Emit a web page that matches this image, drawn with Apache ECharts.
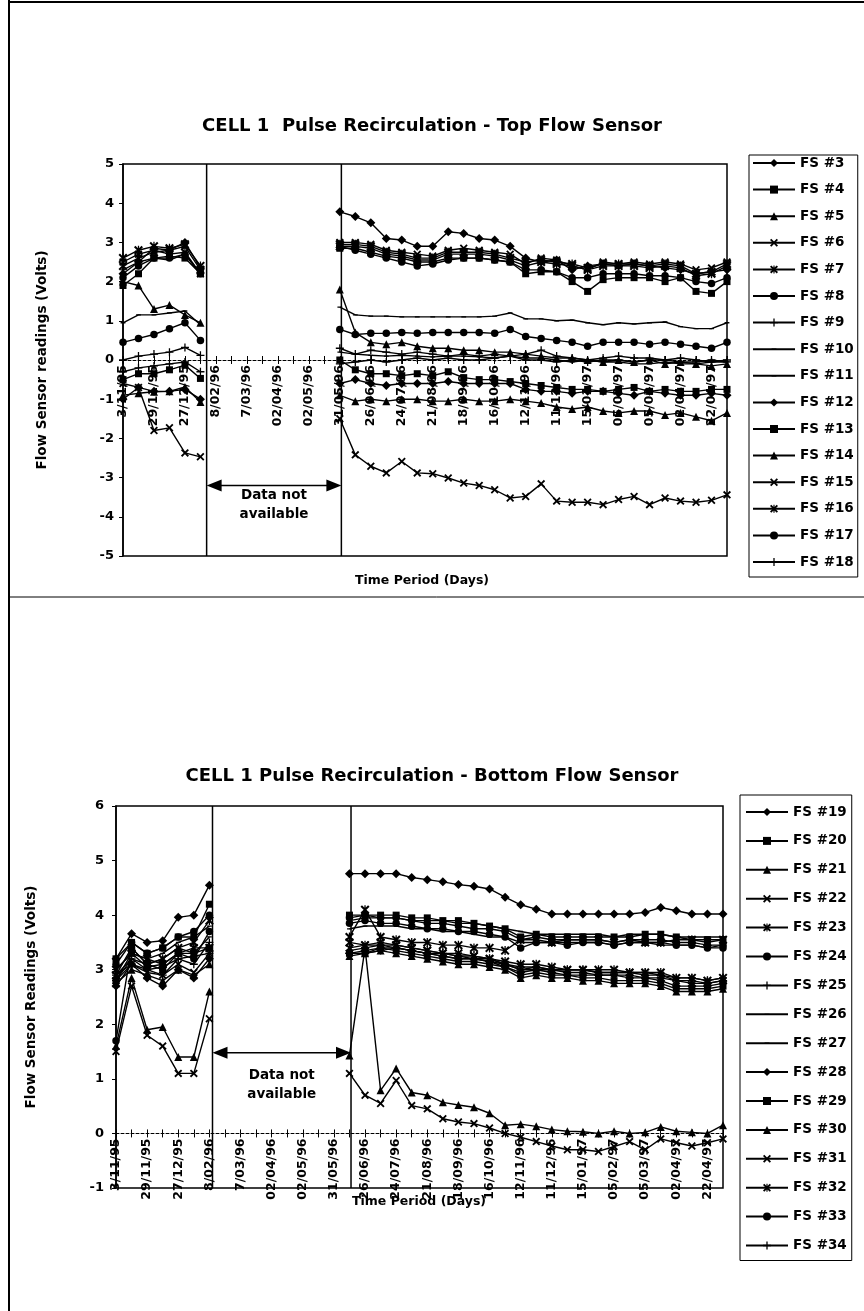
<!DOCTYPE html>
<html lang="en">
<head>
<meta charset="UTF-8">
<title>CELL 1 Pulse Recirculation</title>
<script src="https://cdn.jsdelivr.net/npm/echarts@6/dist/echarts.min.js"></script>
<style>
  html, body { margin: 0; padding: 0; background: #fff; }
  #main { width: 864px; height: 1311px; }
</style>
</head>
<body>
<div id="main"></div>
<script>
var _ = null;

// sampling dates (every other one is labelled on the axis)
var dates = ['3/11/95', '16/11/95', '29/11/95', '13/12/95', '27/12/95', '18/01/96', '8/02/96', '22/02/96',
    '7/03/96', '20/03/96', '02/04/96', '17/04/96', '02/05/96', '16/05/96', '31/05/96', '12/06/96',
    '26/06/96', '10/07/96', '24/07/96', '07/08/96', '21/08/96', '04/09/96', '18/09/96', '02/10/96',
    '16/10/96', '29/10/96', '12/11/96', '26/11/96', '11/12/96', '30/12/96', '15/01/97', '24/01/97',
    '05/02/97', '19/02/97', '05/03/97', '19/03/97', '02/04/97', '12/04/97', '22/04/97', '30/04/97'];

var topNames = ['FS #3', 'FS #4', 'FS #5', 'FS #6', 'FS #7', 'FS #8', 'FS #9', 'FS #10',
    'FS #11', 'FS #12', 'FS #13', 'FS #14', 'FS #15', 'FS #16', 'FS #17', 'FS #18'];
var bottomNames = ['FS #19', 'FS #20', 'FS #21', 'FS #22', 'FS #23', 'FS #24', 'FS #25', 'FS #26',
    'FS #27', 'FS #28', 'FS #29', 'FS #30', 'FS #31', 'FS #32', 'FS #33', 'FS #34'];
var markers = ['diamond', 'square', 'triangle', 'cross', 'star', 'circle', 'plus', 'dash',
    'dash', 'diamond', 'square', 'triangle', 'cross', 'star', 'circle', 'plus'];

// top flow sensors (Volts)
var fs3 = [2.2, 2.5, 2.85, 2.8, 3.0, 2.35, _, _, _, _, _, _, _, _, 3.78, 3.66, 3.5, 3.1, 3.06, 2.9, 2.9, 3.27, 3.23, 3.1, 3.06, 2.9, 2.6, 2.5, 2.55, 2.3, 2.4, 2.45, 2.4, 2.45, 2.4, 2.35, 2.3, 2.2, 2.25, 2.3];
var fs4 = [1.9, 2.2, 2.6, 2.65, 2.6, 2.2, _, _, _, _, _, _, _, _, 2.85, 2.85, 2.75, 2.65, 2.6, 2.5, 2.5, 2.6, 2.6, 2.6, 2.55, 2.5, 2.2, 2.25, 2.25, 2.0, 1.75, 2.05, 2.1, 2.1, 2.1, 2.0, 2.1, 1.75, 1.7, 2.0];
var fs5 = [2.0, 1.9, 1.3, 1.4, 1.15, 0.95, _, _, _, _, _, _, _, _, 1.8, 0.7, 0.45, 0.4, 0.45, 0.35, 0.3, 0.3, 0.25, 0.25, 0.2, 0.2, 0.15, 0.1, 0.05, 0.05, 0.0, -0.05, 0.0, -0.05, 0.0, -0.1, -0.05, -0.1, -0.15, -0.1];
var fs6 = [2.5, 2.7, 2.8, 2.7, 2.75, 2.2, _, _, _, _, _, _, _, _, 3.0, 3.0, 2.95, 2.8, 2.75, 2.7, 2.65, 2.8, 2.85, 2.8, 2.75, 2.7, 2.45, 2.6, 2.55, 2.4, 2.3, 2.5, 2.45, 2.5, 2.45, 2.5, 2.45, 2.3, 2.35, 2.5];
var fs7 = [2.4, 2.6, 2.75, 2.8, 2.9, 2.3, _, _, _, _, _, _, _, _, 2.95, 2.95, 2.9, 2.75, 2.7, 2.6, 2.6, 2.75, 2.75, 2.75, 2.7, 2.6, 2.5, 2.55, 2.5, 2.45, 2.35, 2.45, 2.45, 2.45, 2.4, 2.45, 2.4, 2.2, 2.25, 2.45];
var fs8 = [0.45, 0.55, 0.65, 0.8, 0.95, 0.5, _, _, _, _, _, _, _, _, 0.78, 0.65, 0.68, 0.68, 0.7, 0.68, 0.7, 0.7, 0.7, 0.7, 0.68, 0.78, 0.6, 0.55, 0.5, 0.45, 0.35, 0.45, 0.45, 0.45, 0.4, 0.45, 0.4, 0.35, 0.3, 0.45];
var fs9 = [0.0, 0.1, 0.15, 0.2, 0.32, 0.12, _, _, _, _, _, _, _, _, 0.3, 0.15, 0.25, 0.2, 0.15, 0.2, 0.15, 0.1, 0.15, 0.1, 0.15, 0.1, 0.15, 0.25, 0.1, 0.05, 0.0, 0.05, 0.1, 0.05, 0.05, 0.0, 0.05, 0.0, -0.05, 0.0];
var fs10 = [0.95, 1.15, 1.15, 1.2, 1.25, 0.9, _, _, _, _, _, _, _, _, 1.35, 1.15, 1.12, 1.12, 1.1, 1.1, 1.1, 1.1, 1.1, 1.1, 1.12, 1.2, 1.05, 1.05, 1.0, 1.02, 0.95, 0.9, 0.95, 0.92, 0.95, 0.97, 0.85, 0.8, 0.8, 0.95];
var fs11 = [2.3, 2.5, 2.6, 2.55, 2.7, 2.2, _, _, _, _, _, _, _, _, 0.2, 0.15, 0.12, 0.1, 0.12, 0.1, 0.08, 0.1, 0.1, 0.08, 0.05, 0.1, 0.05, 0.05, 0.0, -0.05, 0.0, -0.05, -0.05, -0.1, -0.1, -0.05, -0.1, -0.1, -0.05, -0.05];
var fs12 = [-1.0, -0.7, -0.8, -0.8, -0.75, -1.0, _, _, _, _, _, _, _, _, -0.6, -0.5, -0.6, -0.65, -0.6, -0.6, -0.6, -0.55, -0.6, -0.6, -0.6, -0.6, -0.75, -0.8, -0.8, -0.85, -0.8, -0.8, -0.85, -0.9, -0.8, -0.85, -0.9, -0.9, -0.85, -0.9];
var fs13 = [-0.5, -0.35, -0.35, -0.25, -0.13, -0.47, _, _, _, _, _, _, _, _, 0.0, -0.25, -0.35, -0.35, -0.4, -0.35, -0.4, -0.3, -0.45, -0.5, -0.5, -0.55, -0.6, -0.65, -0.7, -0.75, -0.75, -0.8, -0.75, -0.7, -0.8, -0.75, -0.8, -0.8, -0.75, -0.75];
var fs14 = [-0.9, -0.85, -0.81, -0.8, -0.69, -1.07, _, _, _, _, _, _, _, _, -0.9, -1.05, -1.0, -1.05, -1.0, -1.0, -1.05, -1.05, -1.0, -1.05, -1.05, -1.0, -1.05, -1.1, -1.2, -1.25, -1.2, -1.3, -1.35, -1.3, -1.3, -1.4, -1.35, -1.45, -1.55, -1.35];
var fs15 = [-0.6, -0.7, -1.8, -1.73, -2.37, -2.47, _, _, _, _, _, _, _, _, -1.5, -2.42, -2.71, -2.88, -2.59, -2.88, -2.9, -3.01, -3.14, -3.2, -3.31, -3.52, -3.48, -3.16, -3.6, -3.63, -3.63, -3.69, -3.56, -3.48, -3.69, -3.52, -3.6, -3.63, -3.58, -3.44];
var fs16 = [2.6, 2.8, 2.9, 2.85, 2.95, 2.4, _, _, _, _, _, _, _, _, 2.9, 2.9, 2.85, 2.7, 2.65, 2.55, 2.55, 2.7, 2.7, 2.7, 2.65, 2.55, 2.4, 2.5, 2.45, 2.4, 2.3, 2.4, 2.4, 2.4, 2.35, 2.4, 2.35, 2.15, 2.2, 2.4];
var fs17 = [2.1, 2.4, 2.6, 2.6, 2.7, 2.2, _, _, _, _, _, _, _, _, 2.9, 2.8, 2.7, 2.6, 2.5, 2.4, 2.45, 2.55, 2.6, 2.6, 2.55, 2.5, 2.3, 2.3, 2.25, 2.1, 2.1, 2.2, 2.2, 2.2, 2.15, 2.15, 2.1, 2.0, 1.95, 2.1];
var fs18 = [-0.3, -0.2, -0.15, -0.1, -0.05, -0.3, _, _, _, _, _, _, _, _, -0.1, -0.05, 0.0, -0.05, 0.0, 0.05, 0.0, 0.05, 0.0, 0.0, 0.05, 0.1, 0.0, 0.0, -0.05, 0.0, -0.05, 0.0, 0.0, -0.05, 0.0, 0.0, -0.05, -0.05, 0.0, -0.05];

// bottom flow sensors (Volts)
var fs19 = [3.2, 3.66, 3.5, 3.53, 3.96, 4.0, 4.55, _, _, _, _, _, _, _, _, 4.76, 4.76, 4.76, 4.76, 4.69, 4.65, 4.61, 4.56, 4.53, 4.48, 4.33, 4.19, 4.11, 4.02, 4.02, 4.02, 4.02, 4.02, 4.02, 4.05, 4.14, 4.08, 4.02, 4.02, 4.02];
var fs20 = [3.2, 3.5, 3.3, 3.4, 3.6, 3.6, 4.2, _, _, _, _, _, _, _, _, 4.0, 4.0, 4.0, 4.0, 3.95, 3.95, 3.9, 3.9, 3.85, 3.8, 3.75, 3.6, 3.65, 3.6, 3.6, 3.6, 3.6, 3.6, 3.6, 3.65, 3.65, 3.6, 3.55, 3.55, 3.55];
var fs21 = [1.6, 2.85, 1.9, 1.95, 1.4, 1.4, 2.6, _, _, _, _, _, _, _, _, 1.43, 3.4, 0.79, 1.19, 0.75, 0.7, 0.57, 0.52, 0.48, 0.37, 0.15, 0.17, 0.13, 0.07, 0.04, 0.03, 0.0, 0.04, 0.0, 0.02, 0.12, 0.04, 0.02, 0.0, 0.15];
var fs22 = [1.5, 2.7, 1.8, 1.6, 1.1, 1.1, 2.1, _, _, _, _, _, _, _, _, 1.1, 0.7, 0.55, 0.97, 0.51, 0.45, 0.27, 0.21, 0.18, 0.1, 0.0, -0.07, -0.15, -0.23, -0.3, -0.3, -0.33, -0.24, -0.15, -0.3, -0.1, -0.17, -0.23, -0.17, -0.1];
var fs23 = [2.9, 3.4, 3.1, 3.2, 3.4, 3.5, 3.9, _, _, _, _, _, _, _, _, 3.5, 3.45, 3.5, 3.45, 3.4, 3.35, 3.3, 3.3, 3.25, 3.2, 3.15, 3.1, 3.1, 3.05, 3.0, 3.0, 3.0, 3.0, 2.95, 2.95, 2.95, 2.85, 2.85, 2.8, 2.85];
var fs24 = [1.7, 3.4, 3.1, 3.0, 3.3, 3.2, 3.7, _, _, _, _, _, _, _, _, 3.85, 3.9, 3.85, 3.85, 3.8, 3.75, 3.75, 3.7, 3.7, 3.65, 3.6, 3.4, 3.5, 3.5, 3.45, 3.5, 3.5, 3.45, 3.5, 3.5, 3.5, 3.45, 3.45, 3.4, 3.4];
var fs25 = [2.8, 3.2, 3.0, 2.9, 3.2, 3.1, 3.5, _, _, _, _, _, _, _, _, 3.3, 3.3, 3.35, 3.4, 3.35, 3.3, 3.25, 3.2, 3.2, 3.15, 3.1, 3.0, 3.0, 3.0, 2.95, 2.95, 2.9, 2.9, 2.9, 2.85, 2.85, 2.8, 2.75, 2.75, 2.8];
var fs26 = [3.0, 3.3, 3.2, 3.3, 3.5, 3.6, 3.8, _, _, _, _, _, _, _, _, 3.9, 3.95, 3.95, 3.95, 3.9, 3.9, 3.9, 3.85, 3.85, 3.8, 3.75, 3.7, 3.65, 3.65, 3.65, 3.65, 3.65, 3.6, 3.65, 3.65, 3.65, 3.6, 3.6, 3.6, 3.6];
var fs27 = [2.9, 3.2, 3.1, 3.2, 3.4, 3.3, 3.6, _, _, _, _, _, _, _, _, 3.75, 3.8, 3.8, 3.8, 3.75, 3.75, 3.7, 3.7, 3.65, 3.6, 3.6, 3.5, 3.5, 3.5, 3.5, 3.5, 3.5, 3.45, 3.5, 3.5, 3.45, 3.45, 3.45, 3.4, 3.45];
var fs28 = [2.7, 3.1, 2.85, 2.7, 3.0, 2.85, 3.2, _, _, _, _, _, _, _, _, 3.3, 3.35, 3.4, 3.4, 3.35, 3.3, 3.25, 3.2, 3.2, 3.15, 3.05, 2.95, 3.0, 2.95, 2.9, 2.9, 2.9, 2.9, 2.85, 2.85, 2.8, 2.7, 2.7, 2.7, 2.75];
var fs29 = [2.8, 3.3, 3.05, 3.1, 3.3, 3.3, 3.4, _, _, _, _, _, _, _, _, 3.3, 3.3, 3.4, 3.35, 3.3, 3.25, 3.2, 3.15, 3.15, 3.1, 3.05, 2.9, 2.95, 2.9, 2.9, 2.85, 2.85, 2.8, 2.8, 2.8, 2.75, 2.65, 2.65, 2.65, 2.7];
var fs30 = [2.75, 3.0, 2.9, 2.8, 3.0, 2.9, 3.1, _, _, _, _, _, _, _, _, 3.25, 3.3, 3.35, 3.3, 3.25, 3.2, 3.15, 3.1, 3.1, 3.05, 3.0, 2.85, 2.9, 2.85, 2.85, 2.8, 2.8, 2.75, 2.75, 2.75, 2.7, 2.6, 2.6, 2.6, 2.65];
var fs31 = [2.8, 3.1, 2.95, 2.9, 3.1, 2.95, 3.3, _, _, _, _, _, _, _, _, 3.4, 3.45, 3.45, 3.45, 3.4, 3.35, 3.3, 3.25, 3.25, 3.2, 3.1, 3.05, 3.05, 3.0, 3.0, 3.0, 2.95, 2.95, 2.95, 2.9, 2.9, 2.8, 2.8, 2.75, 2.8];
var fs32 = [3.0, 3.3, 3.2, 3.1, 3.3, 3.4, 3.4, _, _, _, _, _, _, _, _, 3.6, 4.1, 3.6, 3.55, 3.5, 3.5, 3.45, 3.45, 3.4, 3.4, 3.35, 3.55, 3.55, 3.5, 3.55, 3.55, 3.55, 3.5, 3.55, 3.5, 3.5, 3.55, 3.55, 3.5, 3.55];
var fs33 = [3.1, 3.5, 3.3, 3.4, 3.6, 3.7, 4.0, _, _, _, _, _, _, _, _, 3.95, 4.0, 3.95, 3.95, 3.9, 3.85, 3.85, 3.8, 3.75, 3.75, 3.7, 3.55, 3.6, 3.55, 3.55, 3.55, 3.55, 3.5, 3.55, 3.55, 3.55, 3.5, 3.5, 3.45, 3.45];
var fs34 = [2.9, 3.1, 3.0, 3.05, 3.2, 3.25, 3.3, _, _, _, _, _, _, _, _, 3.35, 3.4, 3.45, 3.4, 3.35, 3.3, 3.3, 3.25, 3.2, 3.2, 3.1, 3.0, 3.05, 3.0, 3.0, 3.0, 2.95, 2.95, 2.95, 2.95, 2.9, 2.85, 2.85, 2.8, 2.85];

var topData = [fs3, fs4, fs5, fs6, fs7, fs8, fs9, fs10, fs11, fs12, fs13, fs14, fs15, fs16, fs17, fs18];
var bottomData = [fs19, fs20, fs21, fs22, fs23, fs24, fs25, fs26, fs27, fs28, fs29, fs30, fs31, fs32, fs33, fs34];

// where the "Data not available" gap starts/ends (category positions)
var topGap = [5.4, 14.1];
var bottomGap = [6.2, 15.1];

var FONT = 'DejaVu Sans';
var XMARK = 'M0,1.6 L1.6,0 L5,3.4 L8.4,0 L10,1.6 L6.6,5 L10,8.4 L8.4,10 L5,6.6 L1.6,10 L0,8.4 L3.4,5 Z';
var SYMBOLS = {
    diamond: ['diamond', 9],
    square: ['rect', 7],
    triangle: ['triangle', 8],
    cross: ['path://' + XMARK, 8],
    star: ['path://' + XMARK + ' M4.3,0 H5.7 V10 H4.3 Z', 9],
    circle: ['circle', 7.5],
    plus: ['path://M4.2,0 H5.8 V4.2 H10 V5.8 H5.8 V10 H4.2 V5.8 H0 V4.2 H4.2 Z', 8],
    dash: ['path://M0,0 Z M10,10 Z M2,4.2 H8 V5.8 H2 Z', 8]
};

// plot boxes
var topGrid = { left: 123, top: 164, width: 604, height: 392 };
var bottomGrid = { left: 116, top: 806, width: 607, height: 382 };

function buildSeries(names, data, axisIndex) {
    return names.map(function (name, i) {
        var m = SYMBOLS[markers[i]];
        return {
            name: name,
            type: 'line',
            xAxisIndex: axisIndex,
            yAxisIndex: axisIndex,
            data: data[i],
            symbol: m[0],
            symbolSize: m[1],
            showSymbol: true,
            lineStyle: { color: '#000', width: 1.4 },
            itemStyle: { color: '#000' },
            emphasis: { disabled: true },
            animation: false
        };
    });
}

function legendFor(names, left, top, gap, padding) {
    return {
        data: names,
        orient: 'vertical',
        left: left,
        top: top,
        itemWidth: 42,
        itemHeight: 10,
        itemGap: gap,
        padding: padding,
        borderColor: '#000',
        borderWidth: 1,
        selectedMode: false,
        textStyle: { fontFamily: FONT, fontWeight: 'bold', fontSize: 13.5, color: '#000' }
    };
}

// axis line + downward ticks sitting on the zero line
function mainX(grid) {
    return {
        gridIndex: grid,
        type: 'category',
        data: dates,
        boundaryGap: false,
        axisLine: { onZero: true, lineStyle: { color: '#000', width: 1, type: [3, 2] } },
        axisTick: { show: true, interval: 0, length: 4, lineStyle: { color: '#000' } },
        axisLabel: { show: false },
        splitLine: { show: false }
    };
}

// second axis on the zero line, ticks pointing up: makes the "+" cross ticks
function tickX(grid) {
    return {
        gridIndex: grid,
        type: 'category',
        position: 'top',
        data: dates,
        boundaryGap: false,
        axisLine: { show: false, onZero: true, onZeroAxisIndex: grid },
        axisTick: { show: true, interval: 0, length: 4, lineStyle: { color: '#000' } },
        axisLabel: { show: false },
        splitLine: { show: false }
    };
}

// labels only, pulled up from the grid bottom to hang under the zero line
function labelX(grid, box, yMin, yMax) {
    return {
        gridIndex: grid,
        type: 'category',
        position: 'bottom',
        offset: -box.height * (0 - yMin) / (yMax - yMin),
        z: 5,
        data: dates,
        boundaryGap: false,
        axisLine: { show: false, onZero: false },
        axisTick: { show: false },
        axisLabel: { interval: 1, rotate: 90, margin: 5, fontFamily: FONT, fontWeight: 'bold', fontSize: 12.5, color: '#000' },
        splitLine: { show: false }
    };
}

function valueY(grid, min, max, name, gap, labelMargin) {
    return {
        gridIndex: grid,
        type: 'value',
        min: min,
        max: max,
        interval: 1,
        name: name,
        nameLocation: 'middle',
        nameRotate: 90,
        nameGap: gap,
        nameTextStyle: { fontFamily: FONT, fontWeight: 'bold', fontSize: 13.5, color: '#000' },
        axisLine: { show: true, lineStyle: { color: '#000', width: 1.5 } },
        axisTick: { show: true, length: 4, lineStyle: { color: '#000' } },
        axisLabel: { margin: labelMargin, fontFamily: FONT, fontWeight: 'bold', fontSize: 13, color: '#000' },
        splitLine: { show: false }
    };
}

var titleStyle = { fontFamily: FONT, fontWeight: 'bold', fontSize: 18, color: '#000' };
var axisNameStyle = { fontFamily: FONT, fontWeight: 'bold', fontSize: 12.5, color: '#000' };

var chart = echarts.init(document.getElementById('main'));

var option = {
    backgroundColor: '#fff',
    animation: false,
    title: [
        { text: 'CELL 1  Pulse Recirculation - Top Flow Sensor', left: 'center', top: 112, textStyle: titleStyle },
        { text: 'CELL 1 Pulse Recirculation - Bottom Flow Sensor', left: 'center', top: 762, textStyle: titleStyle },
        { text: 'Time Period (Days)', left: 350, top: 569, textStyle: axisNameStyle },
        { text: 'Time Period (Days)', left: 347, top: 1190, textStyle: axisNameStyle }
    ],
    legend: [
        legendFor(topNames, 749, 155, 12.6, [1, 4, 8, 3]),
        legendFor(bottomNames, 740, 795, 14.9, [10, 5, 8, 5])
    ],
    grid: [
        Object.assign({ show: true, borderColor: '#000', borderWidth: 1.5 }, topGrid),
        Object.assign({ show: true, borderColor: '#000', borderWidth: 1.5 }, bottomGrid)
    ],
    xAxis: [mainX(0), mainX(1), tickX(0), tickX(1), labelX(0, topGrid, -5, 5), labelX(1, bottomGrid, -1, 6)],
    yAxis: [
        valueY(0, -5, 5, 'Flow Sensor readings (Volts)', 74, 9),
        valueY(1, -1, 6, 'Flow Sensor Readings (Volts)', 78, 12)
    ],
    series: buildSeries(topNames, topData, 0).concat(buildSeries(bottomNames, bottomData, 1))
};

chart.setOption(option);

// pixel helpers for the annotations
function px(axis, cat) {
    var i = Math.floor(cat), f = cat - i;
    var a = chart.convertToPixel({ xAxisIndex: axis }, dates[i]);
    var b = chart.convertToPixel({ xAxisIndex: axis }, dates[i + 1]);
    return a + (b - a) * f;
}
function py(axis, v) {
    return chart.convertToPixel({ yAxisIndex: axis }, v);
}

function gapMarks(axis, gap, yMin, yMax, arrowVal, textVal) {
    var x1 = px(axis, gap[0]), x2 = px(axis, gap[1]);
    var yTop = py(axis, yMax), yBot = py(axis, yMin);
    var ya = py(axis, arrowVal), yt = py(axis, textVal);
    var line = { stroke: '#000', lineWidth: 1.5 };
    return [
        { type: 'line', shape: { x1: x1, y1: yTop, x2: x1, y2: yBot }, style: line },
        { type: 'line', shape: { x1: x2, y1: yTop, x2: x2, y2: yBot }, style: line },
        { type: 'line', shape: { x1: x1 + 10, y1: ya, x2: x2 - 10, y2: ya }, style: line },
        { type: 'polygon', shape: { points: [[x1, ya], [x1 + 15, ya - 6], [x1 + 15, ya + 6]] }, style: { fill: '#000' } },
        { type: 'polygon', shape: { points: [[x2, ya], [x2 - 15, ya - 6], [x2 - 15, ya + 6]] }, style: { fill: '#000' } },
        {
            type: 'text', x: (x1 + x2) / 2, y: yt,
            style: { text: 'Data not\navailable', align: 'center', verticalAlign: 'middle', lineHeight: 19, font: 'bold 13.5px "DejaVu Sans"', fill: '#000' }
        }
    ];
}

var page = { stroke: '#000', lineWidth: 2 };
chart.setOption({
    graphic: [
        { type: 'line', shape: { x1: 9, y1: 0, x2: 9, y2: 1311 }, style: page },
        { type: 'line', shape: { x1: 9, y1: 2, x2: 864, y2: 2 }, style: page },
        { type: 'line', shape: { x1: 9, y1: 597, x2: 864, y2: 597 }, style: { stroke: '#000', lineWidth: 1 } }
    ].concat(gapMarks(0, topGap, -5, 5, -3.2, -3.7), gapMarks(1, bottomGap, -1, 6, 1.48, 0.88))
});
</script>
</body>
</html>
